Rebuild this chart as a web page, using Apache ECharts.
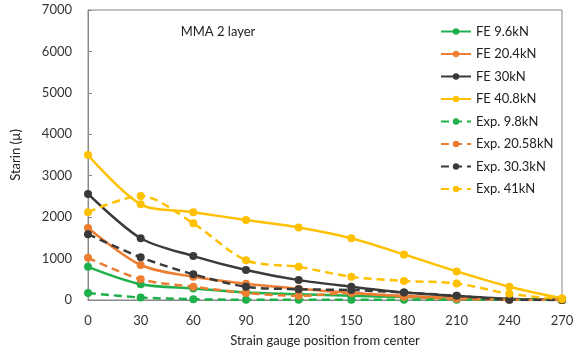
<!DOCTYPE html>
<html>
<head>
<meta charset="utf-8">
<script src="https://cdn.jsdelivr.net/npm/echarts@6/dist/echarts.min.js"></script>
<style>
html,body{margin:0;padding:0;background:#fff;}
#chart{width:578px;height:352px;}
</style>
</head>
<body>
<div id="chart"></div>
<script>
// strain gauge positions
var positions = [0, 30, 60, 90, 120, 150, 180, 210, 240, 270];

var fe96 = [800, 380, 280, 180, 140, 100, 70, 40, 20, 0];
var fe204 = [1740, 845, 560, 390, 270, 170, 100, 50, 20, 0];
var fe30 = [2560, 1490, 1060, 725, 480, 320, 180, 100, 30, 0];
var fe408 = [3500, 2310, 2120, 1930, 1750, 1490, 1100, 690, 320, 40];
var exp98 = [170, 60, 20, 5, 5, 5, 5, 5, 5, 0];
var exp2058 = [1020, 500, 320, 170, 100, 170, 80, 30, 5, 0];
var exp303 = [1590, 1030, 620, 320, 260, 240, 180, 100, 5, 0];
var exp41 = [2120, 2510, 1850, 960, 800, 560, 460, 400, 150, 20];

var seriesNames = ["FE 9.6kN", "FE 20.4kN", "FE 30kN", "FE 40.8kN",
    "Exp. 9.8kN", "Exp. 20.58kN", "Exp. 30.3kN", "Exp. 41kN"];
var seriesData = [fe96, fe204, fe30, fe408, exp98, exp2058, exp303, exp41];
var seriesColors = ["#1fb04b", "#ed7d31", "#3a3a3a", "#ffc000",
    "#1fb04b", "#ed7d31", "#3a3a3a", "#ffc000"];

var font = "Lato, 'Open Sans', sans-serif";

function buildSeries() {
    var list = [];
    for (var i = 0; i < seriesNames.length; i++) {
        var pts = [];
        for (var j = 0; j < positions.length; j++) {
            pts.push([positions[j], seriesData[i][j]]);
        }
        list.push({
            name: seriesNames[i],
            type: "line",
            data: pts,
            smooth: 0.3,
            symbol: "circle",
            symbolSize: 8,
            itemStyle: {color: seriesColors[i]},
            lineStyle: {
                color: seriesColors[i],
                width: 2.5,
                type: i < 4 ? "solid" : [8, 5]
            }
        });
    }
    return list;
}

var myChart = echarts.init(document.getElementById("chart"));
myChart.setOption({
    animation: false,
    backgroundColor: "#ffffff",
    textStyle: {fontFamily: font},
    title: {
        text: "MMA 2 layer",
        left: 213,
        top: 20,
        textAlign: "center",
        textStyle: {fontFamily: font, fontSize: 13, fontWeight: "normal", color: "#222"}
    },
    legend: {
        orient: "vertical",
        left: 435,
        top: 20,
        itemWidth: 30,
        itemHeight: 8,
        itemGap: 9.5,
        textStyle: {fontFamily: font, fontSize: 13, color: "#222"},
        data: seriesNames
    },
    grid: {left: 88, right: 16, top: 10, bottom: 52, show: true, borderColor: "#888", borderWidth: 1},
    xAxis: {
        type: "value",
        min: 0,
        max: 270,
        interval: 30,
        name: "Strain gauge position from center",
        nameLocation: "middle",
        nameGap: 34,
        nameTextStyle: {fontFamily: font, fontSize: 13, color: "#222"},
        axisLine: {lineStyle: {color: "#888"}},
        axisTick: {show: false},
        splitLine: {show: false},
        axisLabel: {fontFamily: font, fontSize: 13, color: "#333", margin: 14}
    },
    yAxis: {
        type: "value",
        min: 0,
        max: 7000,
        interval: 1000,
        name: "Starin (µ)",
        nameLocation: "middle",
        nameGap: 66,
        nameTextStyle: {fontFamily: font, fontSize: 13, color: "#222"},
        axisLine: {show: true, lineStyle: {color: "#888"}},
        axisTick: {show: true, inside: true, length: 4, lineStyle: {color: "#888"}},
        splitLine: {show: false},
        axisLabel: {
            fontFamily: font, fontSize: 13, color: "#333", margin: 16,
            formatter: function (v) { return String(v); }
        }
    },
    series: buildSeries()
});
</script>
</body>
</html>
